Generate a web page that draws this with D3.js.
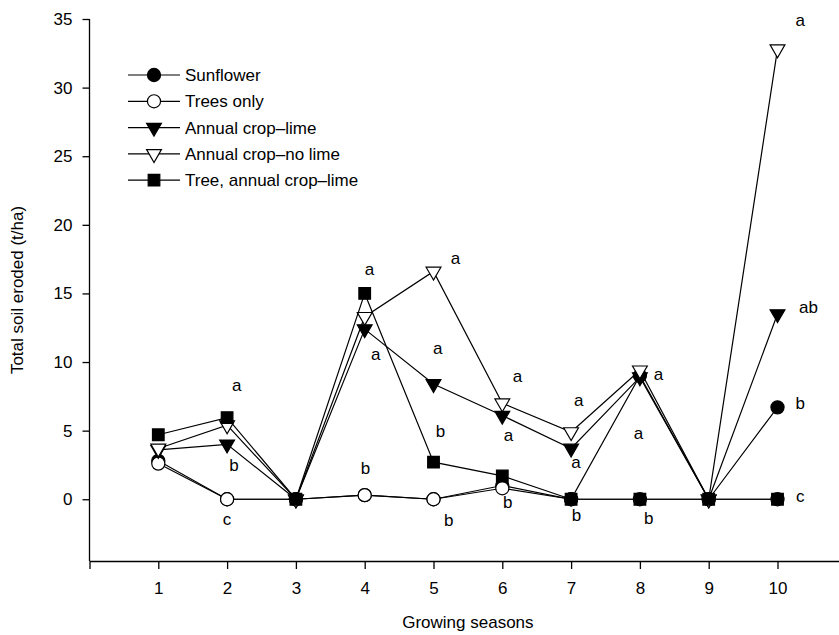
<!DOCTYPE html>
<html>
<head>
<meta charset="utf-8">
<script src="https://cdn.jsdelivr.net/npm/d3@7"></script>
<style>
  html, body { margin: 0; padding: 0; background: #fff; }
  svg { display: block; font-family: "Liberation Sans", Arial, Helvetica, sans-serif; }
</style>
</head>
<body>
<svg id="chart" width="839" height="635"></svg>
<script>
// Growing seasons on the x axis
const seasons = [1, 2, 3, 4, 5, 6, 7, 8, 9, 10];

// Total soil eroded (t/ha) per treatment and season
const sunflower       = [2.8, 0, 0, 0.3, 0, 1.0, 0, 9.0, 0, 6.7];
const treesOnly       = [2.6, 0, 0, 0.3, 0, 0.8, 0, 0, 0, 0];
const annualLime      = [3.6, 4.0, 0, 12.4, 8.4, 6.1, 3.7, 8.9, 0, 13.5];
const annualNoLime    = [3.7, 5.4, 0, 13.3, 16.6, 7.0, 4.9, 9.4, 0, 32.8];
const treeAnnualLime  = [4.7, 5.95, 0, 15.0, 2.7, 1.7, 0, 0, 0, 0];

const seriesNames = ["Sunflower", "Trees only", "Annual crop\u2013lime", "Annual crop\u2013no lime", "Tree, annual crop\u2013lime"];
const seriesValues = [sunflower, treesOnly, annualLime, annualNoLime, treeAnnualLime];
const seriesSymbols = ["circle", "circle", "triangleDown", "triangleDown", "square"];
const seriesFilled = [true, false, true, false, true];

// Mean-separation letters: season position, height (t/ha), letter
const letterSeason = [2.14, 2.1, 2.0, 4.07, 4.16, 4.01, 5.32, 5.06, 5.1, 5.22, 6.22, 6.09, 6.08, 7.11, 7.07, 7.08, 8.27, 7.98, 8.13, 10.33, 10.45, 10.33, 10.33];
const letterValue  = [8.3, 2.5, -1.45, 16.8, 10.6, 2.3, 17.6, 11.0, 5.0, -1.5, 9.0, 4.7, -0.2, 7.2, 2.7, -1.15, 9.1, 4.8, -1.4, 34.9, 14.0, 7.0, 0.2];
const letterText   = ["a", "b", "c", "a", "a", "b", "a", "a", "b", "b", "a", "a", "b", "a", "a", "b", "a", "a", "b", "a", "ab", "b", "c"];

const yTicks = [0, 5, 10, 15, 20, 25, 30, 35];

const FONT = 17;
const svg = d3.select("#chart");

const x = d3.scaleLinear().domain([0, 11]).range([89.5, 846.3]);
const y = d3.scaleLinear().domain([-4.5, 35]).range([561, 19]);

// Axes
const xAxis = d3.axisBottom(x).tickValues(seasons).tickSize(8).tickPadding(13).tickFormat(d3.format("d"));
const yAxis = d3.axisLeft(y).tickValues(yTicks).tickSize(7).tickPadding(10);

const gx = svg.append("g").attr("transform", `translate(0,${y.range()[0]})`).call(xAxis);
const gy = svg.append("g").attr("transform", `translate(${x.range()[0]},0)`).call(yAxis);

[gx, gy].forEach(g => {
  g.select(".domain").attr("stroke", "#000").attr("stroke-width", 1.3);
  g.selectAll(".tick line").attr("stroke", "#000").attr("stroke-width", 1.3);
  g.selectAll(".tick text").attr("fill", "#000").attr("font-size", FONT)
    .attr("font-family", "'Liberation Sans', Arial, Helvetica, sans-serif");
});
// the y-axis spine stops at the top tick
gy.select(".domain").attr("d", `M0,${y(35)}V${y.range()[0]}`);

// Axis titles
svg.append("text")
  .attr("transform", `translate(23,${(y.range()[0] + y.range()[1]) / 2}) rotate(-90)`)
  .attr("text-anchor", "middle")
  .attr("font-size", FONT)
  .text("Total soil eroded (t/ha)");

svg.append("text")
  .attr("x", x(5.5))
  .attr("y", 628)
  .attr("text-anchor", "middle")
  .attr("font-size", FONT)
  .text("Growing seasons");

// Marker shapes
const symbolType = {
  circle: d3.symbolCircle,
  square: d3.symbolSquare,
  triangleDown: d3.symbolTriangle
};
const symbolSize = { circle: 135, square: 135, triangleDown: 95 };
const symbolRotate = { circle: 0, square: 0, triangleDown: 180 };

function drawMarker(g, kind, filled, cx, cy) {
  g.append("path")
    .attr("d", d3.symbol().type(symbolType[kind]).size(symbolSize[kind])())
    .attr("transform", `translate(${cx},${cy}) rotate(${symbolRotate[kind]})`)
    .attr("fill", filled ? "#000" : "#fff")
    .attr("stroke", "#000")
    .attr("stroke-width", 1.2);
}

const line = d3.line().x((d, i) => x(seasons[i])).y(d => y(d));

// Lines and markers, one series after another
seriesValues.forEach((vals, s) => {
  const g = svg.append("g");
  g.append("path")
    .datum(vals)
    .attr("d", line)
    .attr("fill", "none")
    .attr("stroke", "#000")
    .attr("stroke-width", 1.2);
  vals.forEach((v, i) => drawMarker(g, seriesSymbols[s], seriesFilled[s], x(seasons[i]), y(v)));
});

// Letters
svg.append("g").selectAll("text")
  .data(letterText)
  .join("text")
  .attr("x", (d, i) => x(letterSeason[i]))
  .attr("y", (d, i) => y(letterValue[i]))
  .attr("dy", "0.35em")
  .attr("text-anchor", "middle")
  .attr("font-size", FONT)
  .text(d => d);

// Legend
const legend = svg.append("g").attr("transform", "translate(128,75)");
seriesNames.forEach((name, s) => {
  const row = legend.append("g").attr("transform", `translate(0,${s * 26.3})`);
  row.append("line").attr("x1", 0).attr("x2", 52).attr("y1", 0).attr("y2", 0)
    .attr("stroke", "#000").attr("stroke-width", 1.2);
  drawMarker(row, seriesSymbols[s], seriesFilled[s], 26, 0);
  row.append("text").attr("x", 57).attr("y", 0).attr("dy", "0.36em")
    .attr("font-size", FONT).text(name);
});
</script>
</body>
</html>
